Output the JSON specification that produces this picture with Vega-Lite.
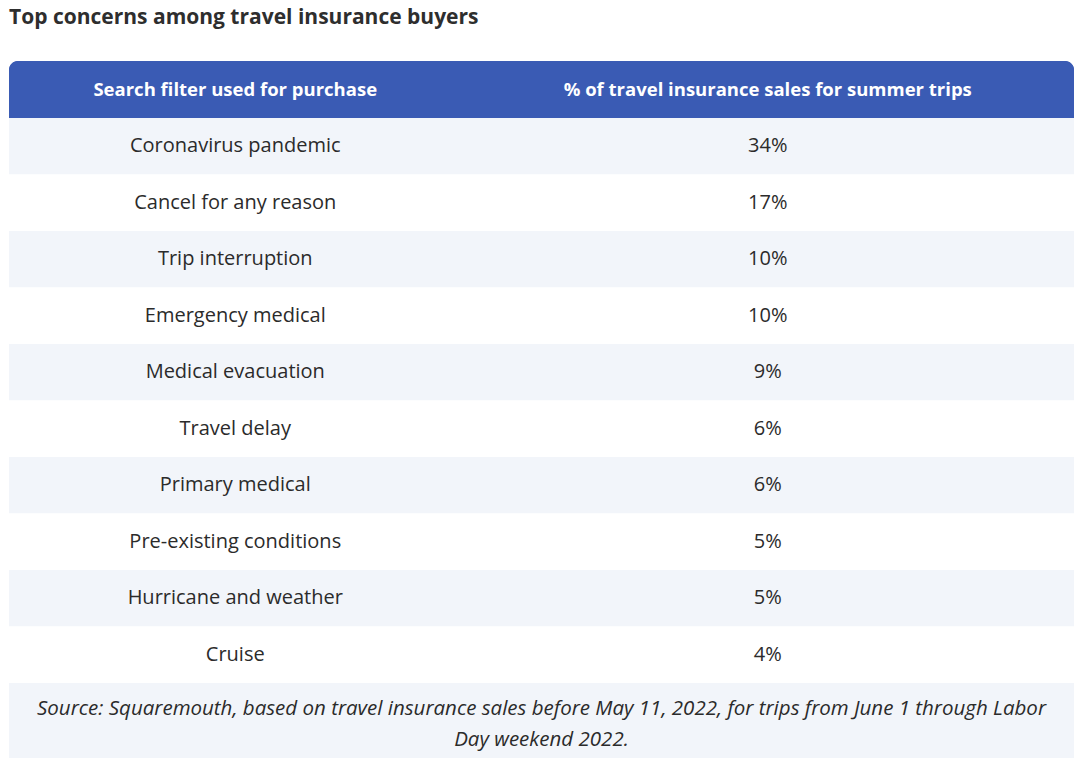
{
  "$schema": "https://vega.github.io/schema/vega-lite/v6.json",
  "background": "white",
  "padding": {"left": 9, "right": 6, "top": 7, "bottom": 0},
  "title": {
    "text": "Top concerns among travel insurance buyers",
    "anchor": "start",
    "font": "Open Sans",
    "fontSize": 21,
    "fontWeight": "bold",
    "color": "#2e2e2e",
    "offset": 33,
    "frame": "group"
  },
  "datasets": {
    "header": [
      {"column": "Search filter used for purchase"},
      {"column": "% of travel insurance sales for summer trips"}
    ],
    "rows": [
      {"filter": "Coronavirus pandemic", "share": 0.34},
      {"filter": "Cancel for any reason", "share": 0.17},
      {"filter": "Trip interruption", "share": 0.10},
      {"filter": "Emergency medical", "share": 0.10},
      {"filter": "Medical evacuation", "share": 0.09},
      {"filter": "Travel delay", "share": 0.06},
      {"filter": "Primary medical", "share": 0.06},
      {"filter": "Pre-existing conditions", "share": 0.05},
      {"filter": "Hurricane and weather", "share": 0.05},
      {"filter": "Cruise", "share": 0.04}
    ],
    "source": [
      {"note": ["Source: Squaremouth, based on travel insurance sales before May 11, 2022, for trips from June 1 through Labor", "Day weekend 2022."]}
    ]
  },
  "spacing": 0,
  "vconcat": [
    {
      "width": 1065,
      "height": 57,
      "data": {"name": "header"},
      "layer": [
        {
          "mark": {"type": "rect", "fill": "#3a5bb4", "cornerRadiusTopLeft": 9, "cornerRadiusTopRight": 9},
          "encoding": {}
        },
        {
          "mark": {"type": "text", "font": "Open Sans", "fontSize": 18.5, "fontWeight": "bold", "color": "white", "baseline": "middle", "align": "center", "dx": -40},
          "encoding": {
            "x": {"field": "column", "type": "nominal", "sort": null, "axis": null,
                  "scale": {"domain": ["Search filter used for purchase", "% of travel insurance sales for summer trips"], "paddingInner": 0, "paddingOuter": 0}},
            "text": {"field": "column"}
          }
        }
      ]
    },
    {
      "width": 1065,
      "height": 565,
      "data": {"name": "rows"},
      "encoding": {
        "y": {"field": "filter", "type": "nominal", "sort": null, "axis": null, "scale": {"paddingInner": 0, "paddingOuter": 0}}
      },
      "layer": [
        {
          "mark": {"type": "rect"},
          "encoding": {
            "color": {"field": "filter", "type": "nominal", "sort": null, "legend": null, "scale": {"range": ["#f2f5fa", "#ffffff"]}}
          }
        },
        {
          "mark": {"type": "text", "font": "Open Sans", "fontSize": 20, "color": "#2b2b2b", "baseline": "middle", "align": "center", "dx": -40},
          "encoding": {
            "x": {"datum": "Search filter used for purchase", "type": "nominal", "axis": null,
                  "scale": {"domain": ["Search filter used for purchase", "% of travel insurance sales for summer trips"], "paddingInner": 0, "paddingOuter": 0}},
            "text": {"field": "filter"}
          }
        },
        {
          "mark": {"type": "text", "font": "Open Sans", "fontSize": 20, "color": "#2b2b2b", "baseline": "middle", "align": "center", "dx": -40},
          "encoding": {
            "x": {"datum": "% of travel insurance sales for summer trips", "type": "nominal", "axis": null},
            "text": {"field": "share", "type": "quantitative", "format": ".0%"}
          }
        }
      ]
    },
    {
      "width": 1065,
      "height": 75,
      "data": {"name": "source"},
      "layer": [
        {
          "mark": {"type": "rect", "fill": "#f2f5fa"},
          "encoding": {}
        },
        {
          "mark": {"type": "text", "font": "Open Sans", "fontSize": 20.5, "fontStyle": "italic", "color": "#2b2b2b", "baseline": "middle", "align": "center", "lineHeight": 31, "dy": -12},
          "encoding": {
            "text": {"field": "note"}
          }
        }
      ]
    }
  ],
  "config": {
    "view": {"stroke": null},
    "concat": {"spacing": 0}
  }
}
